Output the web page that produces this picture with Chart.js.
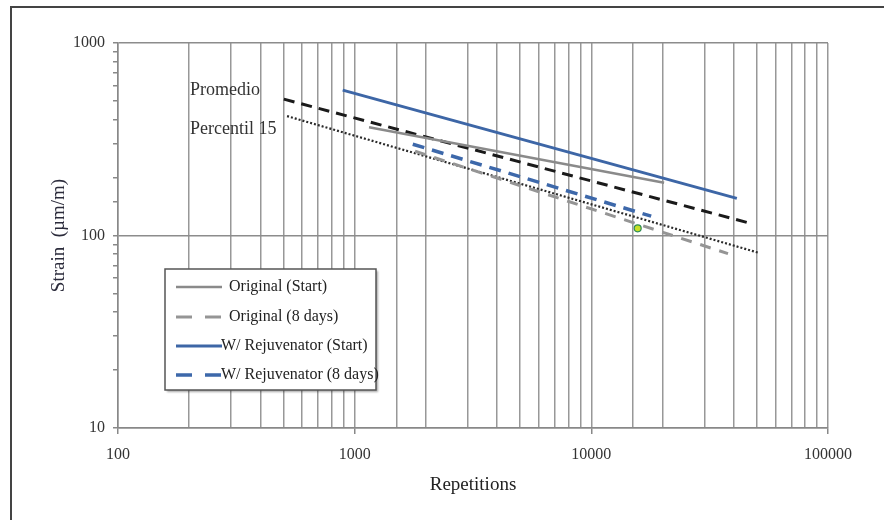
<!DOCTYPE html>
<html>
<head>
<meta charset="utf-8">
<script src="https://cdn.jsdelivr.net/npm/chart.js@4.4.0/dist/chart.umd.min.js"></script>
<style>
    body { margin: 0; background: #fff; }
</style>
</head>
<body>
<canvas id="chart" width="884" height="520"></canvas>
<script>
// values (repetitions, strain in µm/m)
const origStartX = [1150, 20300];
const origStartY = [365, 188];
const orig8X = [1800, 37800];
const orig8Y = [274, 80.5];
const rejStartX = [890, 41200];
const rejStartY = [569, 156];
const rej8X = [1760, 17900];
const rej8Y = [298, 126];
const promedioX = [502, 45400];
const promedioY = [511, 117];
const percentilX = [518, 50600];
const percentilY = [417, 81.5];
const pointX = [15700];
const pointY = [109];

const xTicks = [100, 1000, 10000, 100000];
const yTicks = [10, 100, 1000];

const serif = '"Liberation Serif", "Times New Roman", serif';

const pts = (xs, ys) => xs.map((x, i) => ({x: x, y: ys[i]}));
const isMajor = (v, list) => list.indexOf(Math.round(v)) !== -1;

// legend box + labels + outer frame
const extras = {
    id: 'extras',
    afterDraw(chart) {
        const ctx = chart.ctx;
        ctx.save();

        // outer frame (only left and top visible)
        ctx.strokeStyle = '#444';
        ctx.lineWidth = 2;
        ctx.beginPath();
        ctx.moveTo(11, 520);
        ctx.lineTo(11, 7);
        ctx.lineTo(884, 7);
        ctx.stroke();

        // text labels next to the reference lines
        ctx.fillStyle = '#333';
        ctx.font = '18px ' + serif;
        ctx.textBaseline = 'middle';
        ctx.textAlign = 'left';
        ctx.fillText('Promedio', 190, 90);
        ctx.fillText('Percentil 15', 190, 129);

        // legend
        ctx.save();
        ctx.shadowColor = 'rgba(0,0,0,0.35)';
        ctx.shadowOffsetX = 2;
        ctx.shadowOffsetY = 2;
        ctx.shadowBlur = 2;
        ctx.fillStyle = '#fff';
        ctx.fillRect(165, 269, 211, 121);
        ctx.restore();
        ctx.strokeStyle = '#555';
        ctx.lineWidth = 1.5;
        ctx.strokeRect(165, 269, 211, 121);

        const rows = [287, 317, 346, 375];
        const items = chart.data.datasets.filter(d => d.inLegend);
        items.forEach((d, i) => {
            const y = rows[i];
            ctx.strokeStyle = d.borderColor;
            ctx.lineWidth = d.borderWidth;
            ctx.setLineDash(d.borderDash ? [16, 13] : []);
            ctx.beginPath();
            ctx.moveTo(176, y);
            ctx.lineTo(222, y);
            ctx.stroke();
            ctx.setLineDash([]);
            ctx.fillStyle = '#222';
            ctx.font = '16px ' + serif;
            ctx.fillText(d.label, i < 2 ? 229 : 221, y);
        });
        ctx.restore();
    }
};

new Chart(document.getElementById('chart'), {
    type: 'line',
    data: {
        datasets: [
            {
                label: 'Original (Start)', inLegend: true,
                data: pts(origStartX, origStartY),
                borderColor: '#8a8a8a', borderWidth: 2.5,
                pointRadius: 0
            },
            {
                label: 'Original (8 days)', inLegend: true,
                data: pts(orig8X, orig8Y),
                borderColor: '#959595', borderWidth: 3, borderDash: [11, 9],
                pointRadius: 0
            },
            {
                label: 'W/ Rejuvenator (Start)', inLegend: true,
                data: pts(rejStartX, rejStartY),
                borderColor: '#3d66a6', borderWidth: 3,
                pointRadius: 0
            },
            {
                label: 'W/ Rejuvenator (8 days)', inLegend: true,
                data: pts(rej8X, rej8Y),
                borderColor: '#3d68aa', borderWidth: 3.5, borderDash: [12, 8],
                pointRadius: 0
            },
            {
                label: 'Promedio',
                data: pts(promedioX, promedioY),
                borderColor: '#1a1a1a', borderWidth: 3, borderDash: [11, 7],
                pointRadius: 0
            },
            {
                label: 'Percentil 15',
                data: pts(percentilX, percentilY),
                borderColor: '#2a2a2a', borderWidth: 2.2, borderDash: [2, 2],
                pointRadius: 0
            },
            {
                label: 'point',
                data: pts(pointX, pointY),
                showLine: false,
                pointRadius: 3.5,
                pointBackgroundColor: '#c6e026',
                pointBorderColor: '#2e8b57',
                pointBorderWidth: 1.2
            }
        ]
    },
    options: {
        responsive: false,
        animation: false,
        layout: {
            padding: {left: 0, right: 56, top: 43, bottom: 0}
        },
        plugins: {
            legend: {display: false},
            tooltip: {enabled: false}
        },
        scales: {
            x: {
                type: 'logarithmic',
                min: 100,
                max: 100000,
                afterFit: s => { s.height = 92; },
                border: {display: true, color: '#888', width: 1.5},
                grid: {
                    color: '#989898',
                    lineWidth: 1.5,
                    tickLength: 6,
                    tickColor: c => isMajor(c.tick.value, xTicks) ? '#888' : 'rgba(0,0,0,0)'
                },
                ticks: {
                    autoSkip: false,
                    maxRotation: 0,
                    padding: 11,
                    color: '#333',
                    font: {family: serif, size: 16},
                    callback: v => isMajor(v, xTicks) ? String(Math.round(v)) : ''
                },
                title: {
                    display: true,
                    text: 'Repetitions',
                    color: '#222',
                    font: {family: serif, size: 19},
                    padding: {top: 0, bottom: 24}
                }
            },
            y: {
                type: 'logarithmic',
                min: 10,
                max: 1000,
                afterFit: s => { s.width = 118; },
                border: {display: true, color: '#888', width: 1.5},
                grid: {
                    color: c => isMajor(c.tick.value, yTicks) ? '#8c8c8c' : 'rgba(0,0,0,0)',
                    lineWidth: 1.5,
                    tickLength: 5,
                    tickColor: '#888'
                },
                ticks: {
                    autoSkip: false,
                    padding: 8,
                    color: '#333',
                    font: {family: serif, size: 16},
                    callback: v => isMajor(v, yTicks) ? String(Math.round(v)) : ''
                },
                title: {
                    display: true,
                    text: 'Strain  (µm/m)',
                    color: '#2b2b3b',
                    font: {family: serif, size: 19},
                    padding: {top: 48, bottom: 0}
                }
            }
        }
    },
    plugins: [extras]
});
</script>
</body>
</html>
